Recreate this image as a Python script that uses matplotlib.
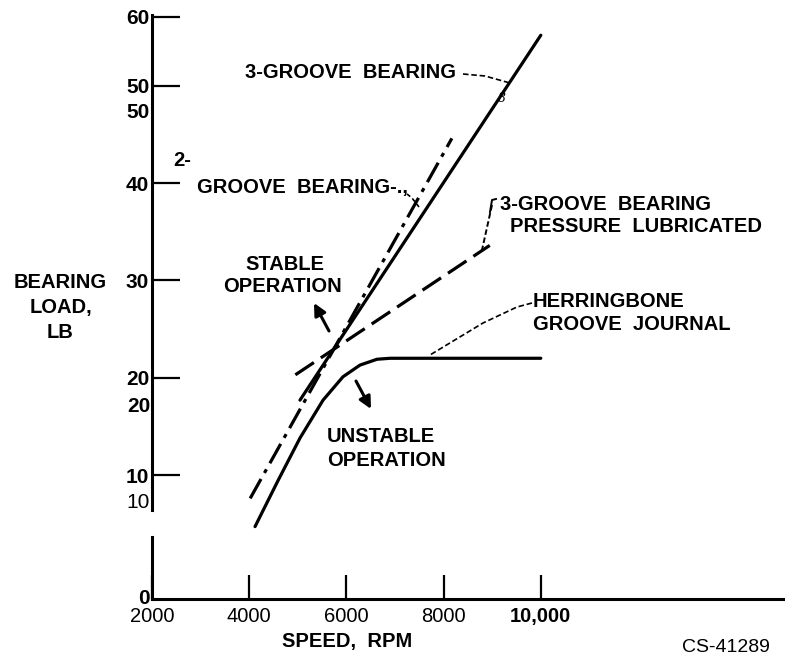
import matplotlib
matplotlib.use('Agg')
import matplotlib.pyplot as plt
import matplotlib.transforms as mtransforms

plt.rcParams['font.family'] = ['Liberation Sans', 'DejaVu Sans']
plt.rcParams['lines.scale_dashes'] = False

# Datos (rpm, lb)
herr_rpm = [4120, 4590, 5045, 5520, 5930, 6280, 6630, 6900, 10000]
herr_load = [4.7, 9.4, 13.8, 17.7, 20.1, 21.3, 21.9, 22.0, 22.0]

g2_rpm = [4020, 8170]
g2_load = [7.6, 44.6]

g3_rpm = [5045, 10000]
g3_load = [17.7, 55.2]

g3p_rpm = [4950, 8950]
g3p_load = [20.3, 33.6]

x_ticks = [2000, 4000, 6000, 8000, 10000]
x_labels = ['2000', '4000', '6000', '8000', '10,000']
y_ticks = [10, 20, 30, 40, 50, 57.1]
y_labels = ['10', '20', '30', '40', '50', '60']

W, H = 785, 663
fig = plt.figure(figsize=(W / 100, H / 100), dpi=100)
ax = fig.add_axes([152 / W, 1 - 599 / H, (785 - 152) / W, (599 - 15) / H])
ax.set_xlim(2000, 15025)
ax.set_ylim(-2.74, 57.28)

lw = 2.3
ax.plot(herr_rpm, herr_load, color='black', lw=lw, solid_capstyle='round', solid_joinstyle='round')
ax.plot(g3_rpm, g3_load, color='black', lw=lw, solid_capstyle='round')
ax.plot(g2_rpm, g2_load, color='black', lw=lw, dashes=(16, 5, 3, 5))
ax.plot(g3p_rpm, g3p_load, color='black', lw=lw, dashes=(16, 6))

# Ejes
for s in ['top', 'right', 'left']:
    ax.spines[s].set_visible(False)
ax.spines['bottom'].set_linewidth(2.2)
ytr = mtransforms.blended_transform_factory(ax.transAxes, ax.transData)
ax.plot([0, 0], [-2.74, 3.63], color='black', lw=2.2, transform=ytr, clip_on=False)
ax.plot([0, 0], [6.4, 57.28], color='black', lw=2.2, transform=ytr, clip_on=False)

ax.set_xticks(x_ticks, x_labels)
ax.set_yticks(y_ticks, y_labels)
ax.tick_params(axis='x', direction='in', length=17, width=1.6, pad=6, labelsize=14.5)
ax.tick_params(axis='y', direction='in', length=20, width=1.6, pad=2, labelsize=15)
for t in ax.get_yticklabels():
    t.set_fontweight('bold')
ax.get_xticklabels()[-1].set_fontweight('bold')


def ptxt(px, py, s, **kw):
    kw.setdefault('fontsize', 14.5)
    kw.setdefault('fontweight', 'bold')
    kw.setdefault('va', 'center')
    fig.text(px / W, 1 - py / H, s, **kw)


def pline(pts, **kw):
    xs = [p[0] / W for p in pts]
    ys = [1 - p[1] / H for p in pts]
    fig.add_artist(plt.Line2D(xs, ys, transform=fig.transFigure, color='black', **kw))


# etiquetas repetidas del eje y
ptxt(150, 113, '50', ha='right', fontsize=15)
ptxt(150, 407, '20', ha='right', fontsize=15)
ptxt(150, 502, '10', ha='right', fontsize=15, fontweight='normal')
ptxt(150, 599, '0', ha='right', fontsize=15)

# titulo del eje y
ptxt(60, 283, 'BEARING', ha='center')
ptxt(61, 308, 'LOAD,', ha='center')
ptxt(60, 332, 'LB', ha='center')

ptxt(347, 642, 'SPEED,  RPM', ha='center')
ptxt(682, 648, 'CS-41289', ha='left', fontweight='normal', fontsize=14)

# anotaciones de las curvas
ptxt(245, 73, '3-GROOVE  BEARING', ha='left')
pline([(463, 74), (485, 76), (510, 83)], lw=1.2, dashes=(4, 2))
ptxt(502, 98, '8', ha='center', fontsize=9, fontweight='normal', style='italic', family='DejaVu Serif')

ptxt(173, 160, '2-', ha='left')
ptxt(197, 188, 'GROOVE  BEARING-.,', ha='left')
pline([(407, 194), (412, 198), (419, 207)], lw=1.2, dashes=(3, 2))

ptxt(500, 205, '3-GROOVE  BEARING', ha='left')
ptxt(510, 227, 'PRESSURE  LUBRICATED', ha='left')
pline([(496, 199), (492, 200), (490, 212)], lw=1.4)
pline([(492, 205), (486, 232), (482, 250)], lw=1.4, dashes=(4, 2))

ptxt(285, 265, 'STABLE', ha='center')
ptxt(282, 287, 'OPERATION', ha='center')
ptxt(327, 437, 'UNSTABLE', ha='left')
ptxt(327, 461, 'OPERATION', ha='left')

ptxt(533, 302, 'HERRINGBONE', ha='left')
ptxt(533, 325, 'GROOVE  JOURNAL', ha='left')
pline([(532, 303), (517, 307), (483, 323), (430, 355)], lw=1.2, dashes=(4, 2))

# flechas
for (x0, y0), (x1, y1) in [((329, 331), (314, 303)), ((356, 381), (371, 409))]:
    ax.annotate('', xy=(x1 / W, 1 - y1 / H), xytext=(x0 / W, 1 - y0 / H),
                xycoords='figure fraction', textcoords='figure fraction',
                arrowprops=dict(arrowstyle='-|>', color='black', lw=2.2,
                                mutation_scale=18, shrinkA=0, shrinkB=0))

fig.savefig('out.png', dpi=100)
